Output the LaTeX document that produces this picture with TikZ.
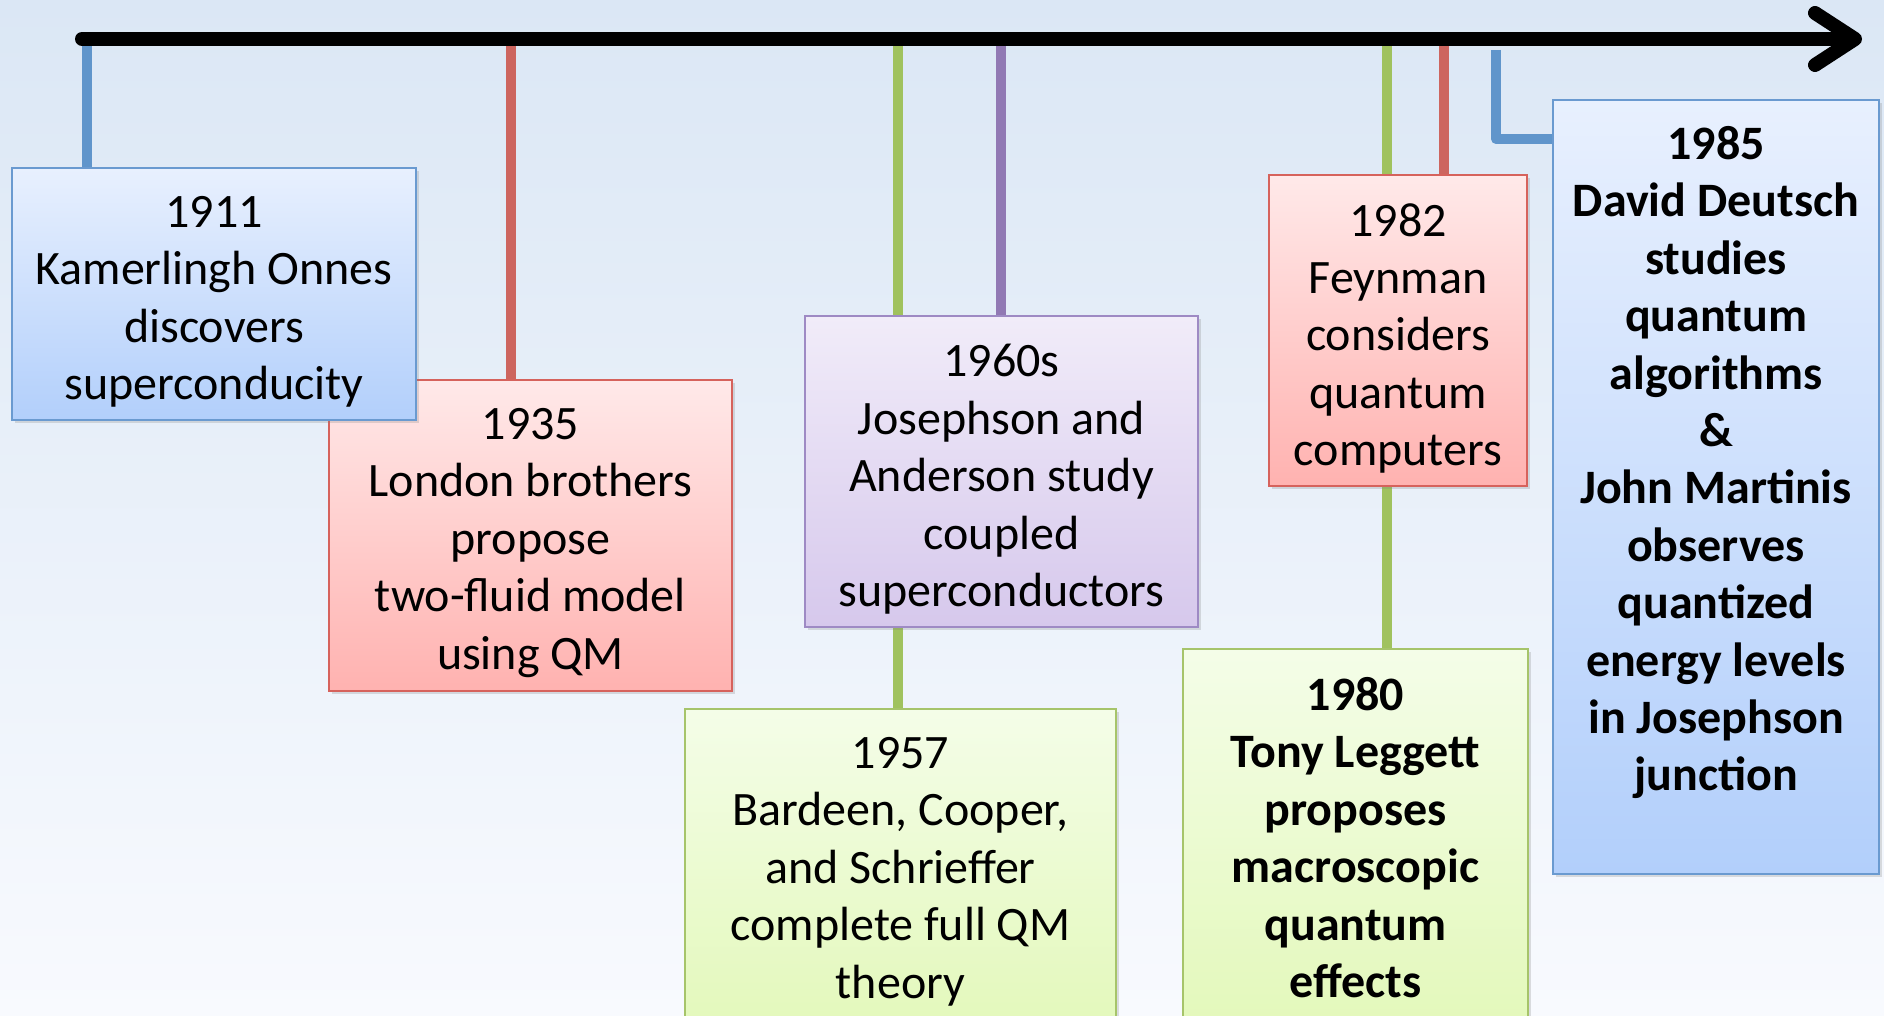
\documentclass[tikz,border=0pt]{standalone}
\usepackage{fontspec}
\setmainfont{Carlito}
\usetikzlibrary{arrows.meta, positioning, shadows}

\definecolor{bgtop}{RGB}{219,231,245}
\definecolor{bgbot}{RGB}{248,250,254}
\definecolor{stemblue}{RGB}{96,149,203}
\definecolor{stemred}{RGB}{205,101,95}
\definecolor{stemgreen}{RGB}{160,194,94}
\definecolor{stempurple}{RGB}{145,121,180}

\tikzstyle{box} = [
	rectangle,
	inner sep=0pt,
	line width=1pt,
	drop shadow={opacity=0.25, shadow xshift=1.5pt, shadow yshift=-1.5pt}]
\tikzstyle{bluebox} = [box, draw={rgb,255:red,106;green,154;blue,208},
	top color={rgb,255:red,232;green,240;blue,254}, bottom color={rgb,255:red,178;green,207;blue,251}]
\tikzstyle{redbox} = [box, draw={rgb,255:red,214;green,98;blue,92},
	top color={rgb,255:red,255;green,233;blue,233}, bottom color={rgb,255:red,255;green,178;blue,176}]
\tikzstyle{purplebox} = [box, draw={rgb,255:red,158;green,138;blue,196},
	top color={rgb,255:red,241;green,236;blue,249}, bottom color={rgb,255:red,214;green,200;blue,236}]
\tikzstyle{greenbox} = [box, draw={rgb,255:red,166;green,196;blue,106},
	top color={rgb,255:red,244;green,253;blue,232}, bottom color={rgb,255:red,226;green,248;blue,184}]
\tikzstyle{boxtext} = [
	inner sep=0pt,
	align=center,
	font=\fontsize{24}{28.7}\selectfont]
\tikzstyle{stem} = [line width=5pt]
\tikzstyle{axis} = [line width=7pt, line cap=round, line join=round,
	-{Straight Barb[length=20pt, width=26pt, round]}]

\begin{document}
\begin{tikzpicture}[x=0.5pt, y=-0.5pt]

% --- Background ---
\shade[top color=bgtop, bottom color=bgbot] (0,0) rectangle (1884,1016);
\useasboundingbox (0,0) rectangle (1884,1016);

% --- Stems ---
\draw [stem, stemblue] (87,39) -- (87,168);
\draw [stem, stemred] (511,39) -- (511,380);
\draw [stem, stemgreen] (898,39) -- (898,709);
\draw [stem, stempurple] (1001,39) -- (1001,316);
\draw [stem, stemgreen] (1387,39) -- (1387,649);
\draw [stem, stemred] (1444,39) -- (1444,175);

% --- Axis ---
\coordinate (tstart) at (82,39);
\coordinate (tend) at (1862,39);
\draw [axis] (tstart) -- (tend);

% --- Boxes ---
\node (b1935) [redbox, minimum width=201.5pt, minimum height=155.5pt] at (530.5,535.5) {};
\node (b1911) [bluebox, minimum width=202pt, minimum height=126pt] at (214,294) {};
\node (b1960) [purplebox, minimum width=196.5pt, minimum height=155.5pt] at (1001.5,471.5) {};
\node (b1957) [greenbox, minimum width=215.5pt, minimum height=170pt] at (900.5,879) {};
\node (b1982) [redbox, minimum width=129pt, minimum height=155.5pt] at (1398,330.5) {};
\node (b1980) [greenbox, minimum width=172.5pt, minimum height=200pt] at (1355.5,849) {};
\node (b1985) [bluebox, minimum width=163pt, minimum height=387pt] at (1716,487) {};

% --- Texts ---
\node (t1911) [boxtext, below=14.5pt of b1911.north] {1911\\Kamerlingh Onnes\\discovers\\superconducity};
\node (t1935) [boxtext, below=14.5pt of b1935.north] {1935\\London brothers\\propose\\two-fluid model\\using QM};
\node (t1960) [boxtext, below=14.5pt of b1960.north] {1960s\\Josephson and\\Anderson study\\coupled\\superconductors};
\node (t1957) [boxtext, below=14.5pt of b1957.north] {1957\\Bardeen, Cooper,\\and Schrieffer\\complete full QM\\theory};
\node (t1982) [boxtext, below=14.5pt of b1982.north] {1982\\Feynman\\considers\\quantum\\computers};
\node (t1980) [boxtext, font=\fontsize{24}{28.7}\selectfont\bfseries, below=14.5pt of b1980.north] {1980\\Tony Leggett\\proposes\\macroscopic\\quantum\\effects};
\node (t1985) [boxtext, font=\fontsize{24}{28.7}\selectfont\bfseries, below=13.5pt of b1985.north] {1985\\David Deutsch\\studies\\quantum\\algorithms\\\&\\John Martinis\\observes\\quantized\\energy levels\\in Josephson\\junction};

% --- Bent stem ---
\draw [stem, stemblue, line join=round] (1496,50) |- (b1985.west |- 0,139);

\end{tikzpicture}
\end{document}
